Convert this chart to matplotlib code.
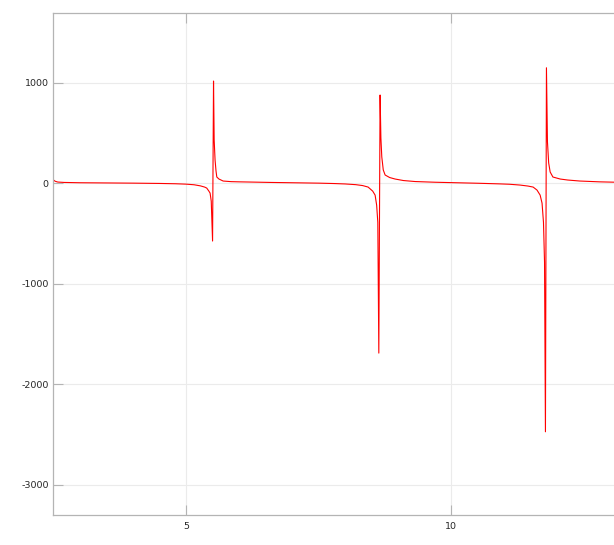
import numpy as np
import matplotlib.pyplot as plt

plt.rcParams['axes.unicode_minus'] = False

x = [2.50, 2.53, 2.58, 2.70, 3.00, 3.50, 4.00, 4.50, 4.80, 5.00, 5.15, 5.27,
     5.35, 5.39, 5.43, 5.453, 5.475, 5.500,
     5.518, 5.530, 5.547, 5.565, 5.580, 5.62, 5.70, 5.85, 6.00, 6.21, 6.60,
     7.00, 7.50, 7.80, 8.00, 8.20, 8.33, 8.434, 8.52, 8.566, 8.595, 8.617, 8.636,
     8.660, 8.675, 8.692, 8.72, 8.755, 8.84, 8.943, 9.10, 9.32, 9.70, 10.10,
     10.50, 10.90, 11.10, 11.30, 11.45, 11.547, 11.62, 11.679, 11.715, 11.742,
     11.762, 11.779,
     11.798, 11.817, 11.840, 11.868, 11.92, 12.057, 12.20, 12.43, 12.80, 13.20,
     13.60, 13.95]
y = [30, 18, 10, 6, 3, 1, -1, -4, -7, -11, -17, -28,
     -40, -50, -80, -100, -180, -577,
     1015, 430, 230, 120, 60, 40, 20, 14, 12, 10, 6,
     3, -1, -5, -9, -16, -25, -40, -80, -120, -220, -390, -1692,
     876, 450, 260, 130, 80, 55, 40, 25, 15, 8, 3,
     -2, -8, -12, -20, -30, -40, -70, -120, -200, -390,
     -790, -2475,
     1147, 410, 200, 110, 60, 40, 30, 20, 12, 7,
     3, 1]

fig = plt.figure(figsize=(6.14, 5.45), dpi=100)
ax = fig.add_axes([53 / 614, 30 / 545, 607 / 614, 502 / 545])

ax.plot(x, y, color="red", linewidth=0.8)

ax.set_xlim(2.49, 13.94)
ax.set_ylim(-3303, 1692)
ax.set_xticks([5, 10])
ax.set_yticks([-3000, -2000, -1000, 0, 1000])

ax.grid(True, color="#ebebeb", linewidth=0.8)
ax.set_axisbelow(True)
for s in ax.spines.values():
    s.set_color("#b4b4b4")
    s.set_linewidth(0.9)
ax.tick_params(direction="in", length=7, width=0.8, color="#b4b4b4",
               labelsize=6.8, labelcolor="#262626", top=True, right=True)
ax.tick_params(axis="x", pad=5)
ax.tick_params(axis="y", pad=3)

fig.savefig("out.png", dpi=100)
